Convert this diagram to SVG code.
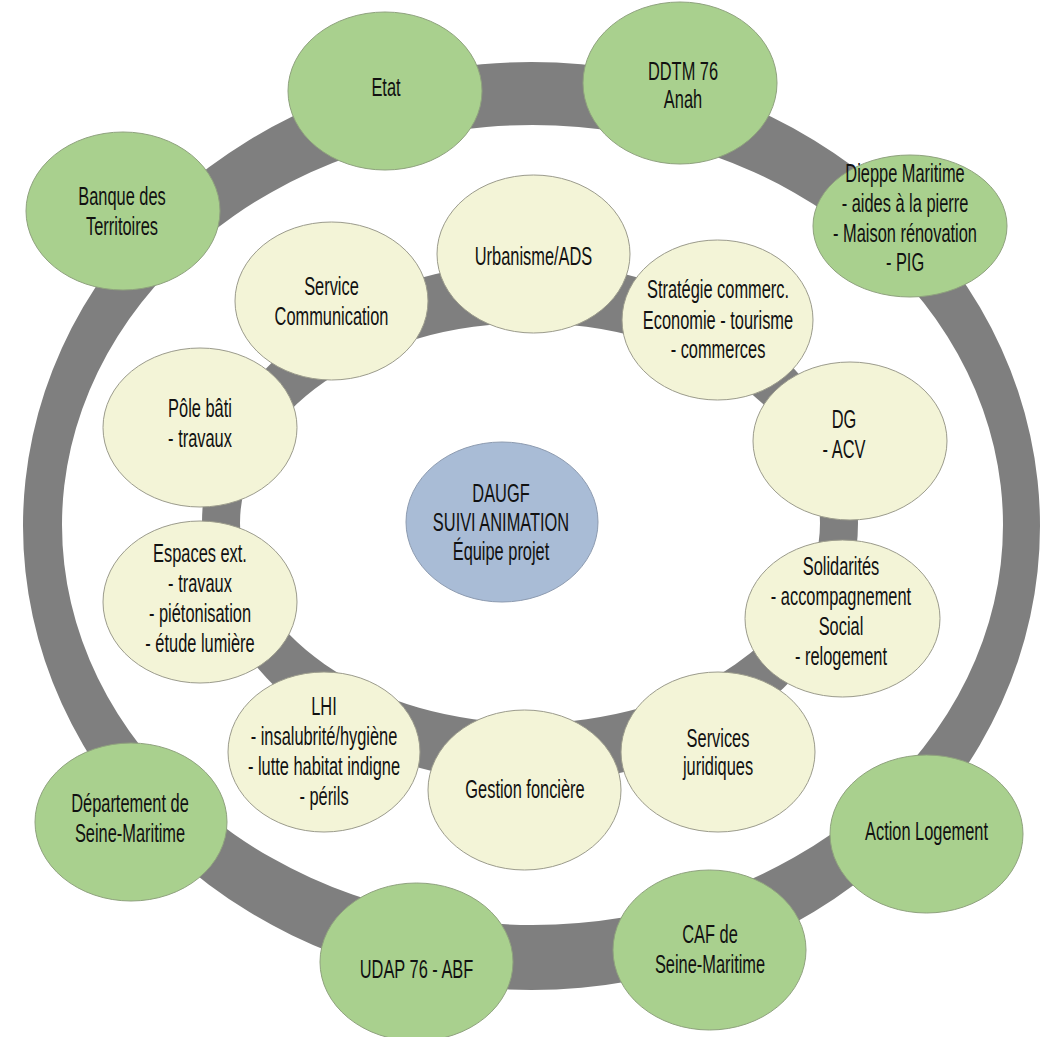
<svg xmlns="http://www.w3.org/2000/svg" width="1046" height="1037" viewBox="0 0 1046 1037">
<style>
.ring{fill:#7f7f7f;fill-rule:evenodd}
.g{fill:#a9d08e;stroke:#8fa27e;stroke-width:1}
.y{fill:#f3f4d7;stroke:#9b9b8c;stroke-width:1}
.b{fill:#a9bcd6;stroke:#8d9bb0;stroke-width:1}
text{font-family:"Liberation Sans",Arial,sans-serif;font-size:25px;fill:#111111;text-anchor:middle}
</style>
<rect width="1046" height="1037" fill="#ffffff"/>
<g id="connectors">
<path class="ring" d="M23,526 a508.5,464 0 1,0 1017,0 a508.5,464 0 1,0 -1017,0 Z M62,525 a470.5,400 0 1,0 941,0 a470.5,400 0 1,0 -941,0 Z"/>
<path class="ring" d="M202,523 a328,260 0 1,0 656,0 a328,260 0 1,0 -656,0 Z M240,523 a290,200 0 1,0 580,0 a290,200 0 1,0 -580,0 Z"/>
</g>
<g id="etat"><ellipse class="g" cx="385" cy="91" rx="97" ry="79"/><text transform="translate(386,0) scale(0.656,1)"><tspan x="0" y="96">Etat</tspan></text></g>
<g id="ddtm"><ellipse class="g" cx="680" cy="83" rx="97" ry="81"/><text transform="translate(683,0) scale(0.656,1)"><tspan x="0" y="80">DDTM 76</tspan><tspan x="0" y="108">Anah</tspan></text></g>
<g id="dieppe"><ellipse class="g" cx="910" cy="226" rx="97" ry="71"/><text transform="translate(905,0) scale(0.656,1)"><tspan x="0" y="182">Dieppe Maritime</tspan><tspan x="0" y="212">- aides à la pierre</tspan><tspan x="0" y="242">- Maison rénovation</tspan><tspan x="0" y="271">- PIG</tspan></text></g>
<g id="banque"><ellipse class="g" cx="123" cy="211" rx="97" ry="79"/><text transform="translate(122,0) scale(0.656,1)"><tspan x="0" y="205">Banque des</tspan><tspan x="0" y="235">Territoires</tspan></text></g>
<g id="departement"><ellipse class="g" cx="131" cy="822" rx="96" ry="79"/><text transform="translate(130,0) scale(0.656,1)"><tspan x="0" y="812">Département de</tspan><tspan x="0" y="842">Seine-Maritime</tspan></text></g>
<g id="udap"><ellipse class="g" cx="416.5" cy="962" rx="96.5" ry="79"/><text transform="translate(416.5,0) scale(0.656,1)"><tspan x="0" y="978">UDAP 76 - ABF</tspan></text></g>
<g id="caf"><ellipse class="g" cx="709.5" cy="950" rx="96.5" ry="80"/><text transform="translate(710,0) scale(0.656,1)"><tspan x="0" y="943">CAF de</tspan><tspan x="0" y="973">Seine-Maritime</tspan></text></g>
<g id="action-logement"><ellipse class="g" cx="926.5" cy="834" rx="96.5" ry="79"/><text transform="translate(926.5,0) scale(0.656,1)"><tspan x="0" y="840">Action Logement</tspan></text></g>
<g id="urbanisme"><ellipse class="y" cx="533.5" cy="254" rx="96.5" ry="79"/><text transform="translate(533.5,0) scale(0.656,1)"><tspan x="0" y="265">Urbanisme/ADS</tspan></text></g>
<g id="communication"><ellipse class="y" cx="331.5" cy="301" rx="96.5" ry="79"/><text transform="translate(331.5,0) scale(0.656,1)"><tspan x="0" y="295">Service</tspan><tspan x="0" y="325">Communication</tspan></text></g>
<g id="strategie"><ellipse class="y" cx="717.5" cy="320" rx="95.5" ry="80"/><text transform="translate(718,0) scale(0.656,1)"><tspan x="0" y="298">Stratégie commerc.</tspan><tspan x="0" y="329">Economie - tourisme</tspan><tspan x="0" y="358">- commerces</tspan></text></g>
<g id="pole-bati"><ellipse class="y" cx="200" cy="427.5" rx="97" ry="79.5"/><text transform="translate(200,0) scale(0.656,1)"><tspan x="0" y="417">Pôle bâti</tspan><tspan x="0" y="447">- travaux</tspan></text></g>
<g id="dg"><ellipse class="y" cx="850" cy="441" rx="97" ry="79"/><text transform="translate(844,0) scale(0.656,1)"><tspan x="0" y="428">DG</tspan><tspan x="0" y="458">- ACV</tspan></text></g>
<g id="espaces"><ellipse class="y" cx="200" cy="602" rx="97" ry="81"/><text transform="translate(200,0) scale(0.656,1)"><tspan x="0" y="562">Espaces ext.</tspan><tspan x="0" y="592">- travaux</tspan><tspan x="0" y="622">- piétonisation</tspan><tspan x="0" y="652">- étude lumière</tspan></text></g>
<g id="solidarites"><ellipse class="y" cx="842.5" cy="618.5" rx="97.5" ry="78.5"/><text transform="translate(841,0) scale(0.656,1)"><tspan x="0" y="575">Solidarités</tspan><tspan x="0" y="605">- accompagnement</tspan><tspan x="0" y="635">Social</tspan><tspan x="0" y="665">- relogement</tspan></text></g>
<g id="lhi"><ellipse class="y" cx="324" cy="752" rx="96" ry="80"/><text transform="translate(324,0) scale(0.656,1)"><tspan x="0" y="715">LHI</tspan><tspan x="0" y="745">- insalubrité/hygiène</tspan><tspan x="0" y="775">- lutte habitat indigne</tspan><tspan x="0" y="805">- périls</tspan></text></g>
<g id="gestion"><ellipse class="y" cx="524.5" cy="790" rx="96.5" ry="80"/><text transform="translate(525,0) scale(0.656,1)"><tspan x="0" y="798">Gestion foncière</tspan></text></g>
<g id="juridiques"><ellipse class="y" cx="718" cy="752" rx="97" ry="80"/><text transform="translate(718,0) scale(0.656,1)"><tspan x="0" y="747">Services</tspan><tspan x="0" y="775">juridiques</tspan></text></g>
<g id="daugf"><ellipse class="b" cx="502" cy="522" rx="96" ry="80"/><text transform="translate(501,0) scale(0.656,1)"><tspan x="0" y="502">DAUGF</tspan><tspan x="0" y="531">SUIVI ANIMATION</tspan><tspan x="0" y="560">Équipe projet</tspan></text></g>
</svg>
